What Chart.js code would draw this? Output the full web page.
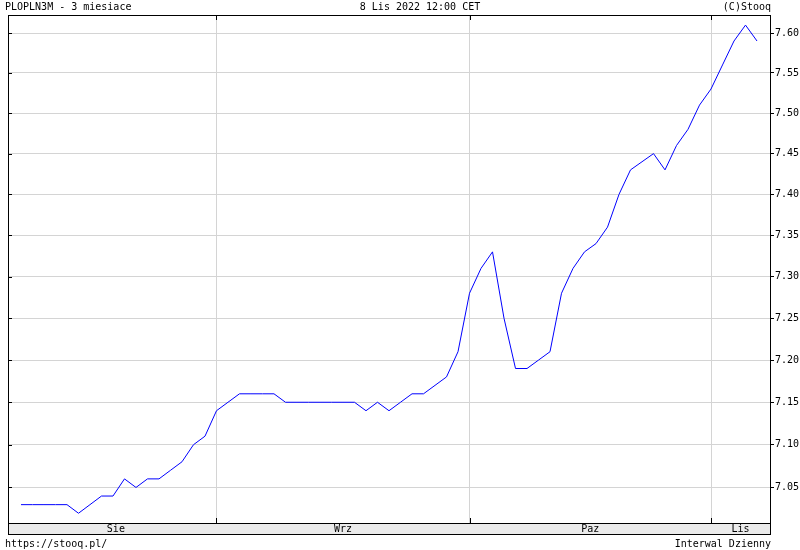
<!DOCTYPE html>
<html>
<head>
<meta charset="utf-8">
<script src="https://cdn.jsdelivr.net/npm/chart.js@4.4.1/dist/chart.umd.min.js"></script>
<style>
  html, body { margin: 0; padding: 0; background: #fff; }
  canvas { display: block; }
</style>
</head>
<body>
<canvas id="rateChart" width="800" height="550"></canvas>
<script>
// PLOPLN3M (WIBOR 3M), daily closes, 8 Aug - 8 Nov 2022
const dates = [
  '2022-08-08','2022-08-09','2022-08-10','2022-08-11','2022-08-12','2022-08-16','2022-08-17','2022-08-18','2022-08-19',
  '2022-08-22','2022-08-23','2022-08-24','2022-08-25','2022-08-26','2022-08-29','2022-08-30','2022-08-31',
  '2022-09-01','2022-09-02','2022-09-05','2022-09-06','2022-09-07','2022-09-08','2022-09-09','2022-09-12','2022-09-13',
  '2022-09-14','2022-09-15','2022-09-16','2022-09-19','2022-09-20','2022-09-21','2022-09-22','2022-09-23','2022-09-26',
  '2022-09-27','2022-09-28','2022-09-29','2022-09-30',
  '2022-10-03','2022-10-04','2022-10-05','2022-10-06','2022-10-07','2022-10-10','2022-10-11','2022-10-12','2022-10-13',
  '2022-10-14','2022-10-17','2022-10-18','2022-10-19','2022-10-20','2022-10-21','2022-10-24','2022-10-25','2022-10-26',
  '2022-10-27','2022-10-28','2022-10-31',
  '2022-11-02','2022-11-03','2022-11-04','2022-11-07','2022-11-08'
];
const rates = [
  7.03, 7.03, 7.03, 7.03, 7.03, 7.02, 7.03, 7.04, 7.04,
  7.06, 7.05, 7.06, 7.06, 7.07, 7.08, 7.10, 7.11,
  7.14, 7.15, 7.16, 7.16, 7.16, 7.16, 7.15, 7.15, 7.15,
  7.15, 7.15, 7.15, 7.15, 7.14, 7.15, 7.14, 7.15, 7.16,
  7.16, 7.17, 7.18, 7.21,
  7.28, 7.31, 7.33, 7.25, 7.19, 7.19, 7.20, 7.21, 7.28,
  7.31, 7.33, 7.34, 7.36, 7.40, 7.43, 7.44, 7.45, 7.43,
  7.46, 7.48, 7.51, 7.53, 7.56,
  7.59, 7.61, 7.59
];
const monthNames = ['Sie', 'Wrz', 'Paz', 'Lis'];
const yTicks = [7.05, 7.10, 7.15, 7.20, 7.25, 7.30, 7.35, 7.40, 7.45, 7.50, 7.55, 7.60];

const titleLeft = 'PLOPLN3M - 3 miesiace';
const titleMid = '8 Lis 2022 12:00 CET';
const titleRight = '(C)Stooq';
const footLeft = 'https://stooq.pl/';
const footRight = 'Interwal Dzienny';

// index of first session of every month after the first
const monthStarts = [];
dates.forEach((d, i) => {
  if (i > 0 && d.slice(5, 7) !== dates[i - 1].slice(5, 7)) monthStarts.push(i);
});

const FONT = '10px "DejaVu Sans Mono", "Liberation Mono", monospace';

const stooqFrame = {
  id: 'stooqFrame',
  afterDraw(chart) {
    const { ctx, chartArea: a, scales: { x, y } } = chart;
    const L = Math.round(a.left), R = Math.round(a.right);
    const T = Math.round(a.top), B = Math.round(a.bottom);
    ctx.save();

    // month band under the plot
    ctx.fillStyle = '#ebebeb';
    ctx.fillRect(L, B, R - L, 11);
    ctx.strokeStyle = '#000';
    ctx.lineWidth = 1;
    ctx.strokeRect(L + 0.5, T + 0.5, R - L, B - T);
    ctx.strokeRect(L + 0.5, B + 0.5, R - L, 11);

    // small ticks on the frame
    ctx.beginPath();
    monthStarts.forEach(i => {
      const px = Math.round(x.getPixelForValue(i)) + 0.5;
      ctx.moveTo(px, T); ctx.lineTo(px, T + 5);
      ctx.moveTo(px, B); ctx.lineTo(px, B - 5);
    });
    yTicks.forEach(v => {
      const py = Math.round(y.getPixelForValue(v)) + 0.5;
      ctx.moveTo(L, py); ctx.lineTo(L + 4, py);
    });
    ctx.stroke();

    // month names centred in their span
    ctx.font = FONT;
    ctx.fillStyle = '#000';
    ctx.textBaseline = 'middle';
    ctx.textAlign = 'center';
    const bounds = [-0.5].concat(monthStarts);
    monthNames.forEach((m, k) => {
      const x0 = x.getPixelForValue(bounds[k]);
      const x1 = k + 1 < bounds.length ? x.getPixelForValue(bounds[k + 1]) : a.right;
      ctx.fillText(m, (x0 + x1) / 2, B + 6.5);
    });

    // header / footer
    ctx.textAlign = 'left';
    ctx.fillText(titleLeft, 5, 7);
    ctx.fillText(footLeft, 5, 544);
    ctx.textAlign = 'center';
    ctx.fillText(titleMid, 420, 7);
    ctx.textAlign = 'right';
    ctx.fillText(titleRight, 771, 7);
    ctx.fillText(footRight, 771, 544);
    ctx.restore();
  }
};

new Chart(document.getElementById('rateChart').getContext('2d'), {
  type: 'line',
  data: {
    datasets: [{
      data: rates.map((v, i) => ({ x: i, y: v })),
      borderColor: '#0000ff',
      borderWidth: 1,
      pointRadius: 0,
      tension: 0,
      fill: false
    }]
  },
  options: {
    responsive: false,
    animation: false,
    layout: { padding: { left: 8, top: 15, right: 0, bottom: 0 } },
    plugins: { legend: { display: false }, tooltip: { enabled: false } },
    scales: {
      x: {
        type: 'linear',
        min: -1.13,
        max: 65.13,
        grid: { color: '#d4d4d4', drawTicks: false },
        border: { display: false },
        ticks: { display: false },
        afterBuildTicks: (s) => { s.ticks = monthStarts.map(v => ({ value: v })); },
        afterFit: (s) => { s.height = 27; }
      },
      y: {
        type: 'logarithmic',
        position: 'right',
        min: 7.0087,
        max: 7.6227,
        grid: { color: '#d4d4d4', tickColor: '#000', tickLength: 4 },
        border: { color: '#000' },
        ticks: {
          color: '#000',
          padding: 1,
          font: { family: '"DejaVu Sans Mono", monospace', size: 10 },
          callback: (v) => Number(v).toFixed(2)
        },
        afterBuildTicks: (s) => { s.ticks = yTicks.map(v => ({ value: v })); },
        afterFit: (s) => { s.width = 30; }
      }
    }
  },
  plugins: [stooqFrame]
});
</script>
</body>
</html>
